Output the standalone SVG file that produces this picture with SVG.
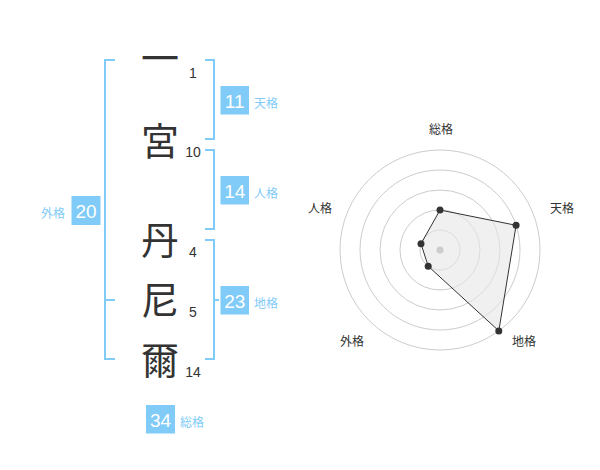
<svg xmlns="http://www.w3.org/2000/svg" width="600" height="470" viewBox="0 0 600 470">
<style>
.br{fill:none;stroke:#80cbf7;stroke-width:2}
.box{fill:#80cbf7}
.bn{font-family:"Liberation Sans",Arial,sans-serif;font-size:19px;fill:#fff;text-anchor:middle}
.lb{font-family:"Noto Sans CJK JP",sans-serif;font-size:12px;fill:#80cbf7}
.ch{font-family:"Noto Sans CJK JP",sans-serif;font-size:38px;fill:#333;text-anchor:middle}
.sn{font-family:"Liberation Sans",Arial,sans-serif;font-size:14px;fill:#333;text-anchor:middle}
.ring{fill:none;stroke:#cccccc;stroke-width:1}
.rl{font-family:"Noto Sans CJK JP",sans-serif;font-size:12px;fill:#333;text-anchor:middle}
.pt{fill:#333}
</style>
<rect width="600" height="470" fill="#fff"/>
<g id="connectors">
<path class="br" d="M115,60 H105 V359 H115 M105,300 H115"/>
<path class="br" d="M205,60 H214 V139 H205"/>
<path class="br" d="M205,150 H214 V229 H205"/>
<path class="br" d="M205,240 H214 V359 H205 M214,300 H219"/>
</g>
<g id="chars">
<text class="ch" x="160" y="72">一</text>
<text class="ch" x="160" y="155">宮</text>
<text class="ch" x="160" y="254">丹</text>
<text class="ch" x="160" y="314">尼</text>
<text class="ch" x="160" y="374">爾</text>
<text class="sn" x="193" y="78">1</text>
<text class="sn" x="193" y="157">10</text>
<text class="sn" x="193" y="257">4</text>
<text class="sn" x="193" y="317">5</text>
<text class="sn" x="193" y="377">14</text>
</g>
<g id="tenkaku">
<rect class="box" x="220.5" y="86" width="28.5" height="28.5"/>
<text class="bn" x="234.7" y="107.5">11</text>
<text class="lb" x="254" y="108">天格</text>
</g>
<g id="jinkaku">
<rect class="box" x="220.5" y="176" width="28.5" height="28.5"/>
<text class="bn" x="234.7" y="197.5">14</text>
<text class="lb" x="254" y="198">人格</text>
</g>
<g id="chikaku">
<rect class="box" x="220.5" y="286" width="28.5" height="28.5"/>
<text class="bn" x="234.7" y="307.5">23</text>
<text class="lb" x="254" y="308">地格</text>
</g>
<g id="gaikaku">
<rect class="box" x="71.5" y="196" width="29" height="29"/>
<text class="bn" x="86" y="217.5">20</text>
<text class="lb" x="41" y="218">外格</text>
</g>
<g id="soukaku">
<rect class="box" x="146" y="405" width="29" height="28.5"/>
<text class="bn" x="160.5" y="426.5">34</text>
<text class="lb" x="180" y="427">総格</text>
</g>
<g id="radar">
<circle class="ring" cx="440" cy="250" r="20"/>
<circle class="ring" cx="440" cy="250" r="40"/>
<circle class="ring" cx="440" cy="250" r="60"/>
<circle class="ring" cx="440" cy="250" r="80"/>
<circle class="ring" cx="440" cy="250" r="100"/>
<polygon points="440,210 516.1,225.3 498.8,330.9 428.2,266.2 421,243.8" fill="#e6e6e6" fill-opacity="0.6" stroke="#333" stroke-width="1"/>
<circle cx="440" cy="250" r="3.5" fill="#cccccc"/>
<circle class="pt" cx="440" cy="210" r="3.5"/>
<circle class="pt" cx="516.1" cy="225.3" r="3.5"/>
<circle class="pt" cx="498.8" cy="330.9" r="3.5"/>
<circle class="pt" cx="428.2" cy="266.2" r="3.5"/>
<circle class="pt" cx="421" cy="243.8" r="3.5"/>
<text class="rl" x="441" y="134">総格</text>
<text class="rl" x="562" y="213">天格</text>
<text class="rl" x="524" y="346">地格</text>
<text class="rl" x="352" y="346">外格</text>
<text class="rl" x="320" y="213">人格</text>
</g>
</svg>
